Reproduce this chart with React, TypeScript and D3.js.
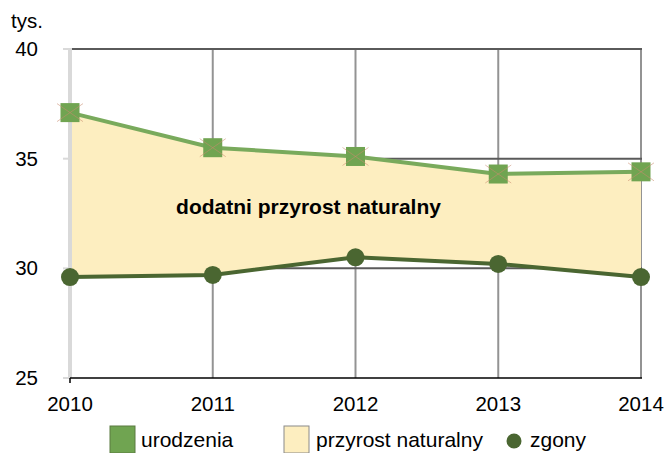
import React, { useEffect, useRef } from 'react';
import * as d3 from 'd3';

const years = [2010, 2011, 2012, 2013, 2014];
const urodzenia = [37.1, 35.5, 35.1, 34.3, 34.4];
const zgony = [29.6, 29.7, 30.5, 30.2, 29.6];
const yTicks = [25, 30, 35, 40];

const App = () => {
  const ref = useRef<SVGSVGElement>(null);

  useEffect(() => {
    const svg = d3.select(ref.current);
    svg.selectAll('*').remove();

    const width = 664;
    const height = 453;
    const font = '"Liberation Sans", Arial, sans-serif';
    const fs = 20.5;

    const x = d3.scaleLinear().domain([2010, 2014]).range([70, 641]);
    const y = d3.scaleLinear().domain([25, 40]).range([378, 49]);

    svg.append('rect').attr('width', width).attr('height', height).attr('fill', '#fff');

    // vertical gridlines
    svg.append('g')
      .selectAll('line')
      .data(years.slice(1))
      .enter()
      .append('line')
      .attr('x1', d => x(d))
      .attr('x2', d => x(d))
      .attr('y1', y(40))
      .attr('y2', y(25))
      .attr('stroke', '#939393')
      .attr('stroke-width', 2);

    // horizontal gridlines
    svg.append('g')
      .selectAll('line')
      .data(yTicks.slice(1))
      .enter()
      .append('line')
      .attr('x1', x(2010))
      .attr('x2', x(2014) + 1)
      .attr('y1', d => y(d))
      .attr('y2', d => y(d))
      .attr('stroke', '#5a5a5a')
      .attr('stroke-width', 2);

    // area between the two series
    const data = years.map((yr, i) => ({ yr, b: urodzenia[i], z: zgony[i] }));
    const area = d3.area<any>()
      .x(d => x(d.yr))
      .y0(d => y(d.z))
      .y1(d => y(d.b));
    svg.append('path').datum(data).attr('d', area).attr('fill', '#fdeec0');

    // left axis
    svg.append('line')
      .attr('x1', x(2010)).attr('x2', x(2010))
      .attr('y1', y(40) - 1).attr('y2', y(25))
      .attr('stroke', '#d9d9d9').attr('stroke-width', 4);
    svg.append('g')
      .selectAll('line')
      .data(yTicks)
      .enter()
      .append('line')
      .attr('x1', x(2010) - 7).attr('x2', x(2010))
      .attr('y1', d => y(d)).attr('y2', d => y(d))
      .attr('stroke', '#d9d9d9').attr('stroke-width', 2);

    // bottom axis
    svg.append('line')
      .attr('x1', x(2010)).attr('x2', x(2014) + 1)
      .attr('y1', y(25)).attr('y2', y(25))
      .attr('stroke', '#000').attr('stroke-width', 1.5);
    svg.append('line')
      .attr('x1', x(2010)).attr('x2', x(2010))
      .attr('y1', y(25)).attr('y2', y(25) + 5)
      .attr('stroke', '#000').attr('stroke-width', 1.5);

    // tick labels
    svg.append('g')
      .selectAll('text')
      .data(yTicks)
      .enter()
      .append('text')
      .attr('x', 38)
      .attr('y', d => y(d) + 7)
      .attr('text-anchor', 'end')
      .attr('font-family', font)
      .attr('font-size', fs)
      .text(d => d);

    svg.append('g')
      .selectAll('text')
      .data(years)
      .enter()
      .append('text')
      .attr('x', d => x(d))
      .attr('y', 411)
      .attr('text-anchor', 'middle')
      .attr('font-family', font)
      .attr('font-size', fs)
      .text(d => d);

    svg.append('text')
      .attr('x', 11).attr('y', 28)
      .attr('font-family', font).attr('font-size', fs)
      .text('tys.');

    // lines
    const lineB = d3.line<any>().x(d => x(d.yr)).y(d => y(d.b));
    const lineZ = d3.line<any>().x(d => x(d.yr)).y(d => y(d.z));
    svg.append('path').datum(data).attr('d', lineB)
      .attr('fill', 'none').attr('stroke', '#79aa5c').attr('stroke-width', 4);
    svg.append('path').datum(data).attr('d', lineZ)
      .attr('fill', 'none').attr('stroke', '#4a6631').attr('stroke-width', 4);

    // births markers: square with a thin cross
    const sq = 19;
    const mb = svg.append('g').selectAll('g').data(data).enter().append('g')
      .attr('transform', d => `translate(${x(d.yr)},${y(d.b)})`);
    mb.append('rect')
      .attr('x', -sq / 2).attr('y', -sq / 2).attr('width', sq).attr('height', sq)
      .attr('fill', '#70a451');
    mb.append('path')
      .attr('d', 'M-13,-9L13,9M-13,9L13,-9')
      .attr('stroke', '#c98a6e').attr('stroke-opacity', 0.55).attr('stroke-width', 1);

    // deaths markers
    svg.append('g').selectAll('circle').data(data).enter().append('circle')
      .attr('cx', d => x(d.yr)).attr('cy', d => y(d.z)).attr('r', 9)
      .attr('fill', '#4a6631');

    // annotation
    svg.append('text')
      .attr('x', (x(2011) + x(2013)) / 2 - 47)
      .attr('y', y(32.5))
      .attr('text-anchor', 'middle')
      .attr('font-family', font)
      .attr('font-size', 21)
      .attr('font-weight', 'bold')
      .text('dodatni przyrost naturalny');

    // legend
    const legend = svg.append('g').attr('font-family', font).attr('font-size', 21);
    legend.append('rect').attr('x', 110).attr('y', 426).attr('width', 25).attr('height', 27)
      .attr('fill', '#70a451').attr('stroke', '#5a7a40').attr('stroke-width', 1);
    legend.append('text').attr('x', 141).attr('y', 447).text('urodzenia');
    legend.append('rect').attr('x', 284).attr('y', 426).attr('width', 25).attr('height', 27)
      .attr('fill', '#fdeec0').attr('stroke', '#8a8a8a').attr('stroke-width', 1);
    legend.append('text').attr('x', 316).attr('y', 447).text('przyrost naturalny');
    legend.append('circle').attr('cx', 514).attr('cy', 441).attr('r', 7.5).attr('fill', '#4a6631');
    legend.append('text').attr('x', 530).attr('y', 447).text('zgony');
  }, []);

  return (
    <svg
      ref={ref}
      width={664}
      height={453}
      style={{ display: 'block', position: 'absolute', left: 0, top: 0 }}
    ></svg>
  );
};

export default App;
